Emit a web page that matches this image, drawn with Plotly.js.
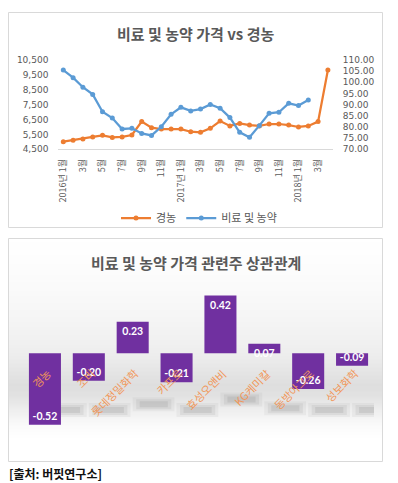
<!DOCTYPE html>
<html><head><meta charset="utf-8">
<script src="https://cdn.plot.ly/plotly-3.0.1.min.js"></script>
<style>html,body{margin:0;padding:0;background:#fff}#chart{width:398px;height:483px}</style>
</head><body><div id="chart"></div>
<script>
// ---------- data ----------
const months = ['2016-01','2016-02','2016-03','2016-04','2016-05','2016-06','2016-07','2016-08','2016-09','2016-10','2016-11','2016-12',
  '2017-01','2017-02','2017-03','2017-04','2017-05','2017-06','2017-07','2017-08','2017-09','2017-10','2017-11','2017-12',
  '2018-01','2018-02','2018-03','2018-04'];
const tickLabels = ['2016년 1월','3월','5월','7월','9월','11월','2017년 1월','3월','5월','7월','9월','11월','2018년 1월','3월'];
const kyungnong = [5010,5100,5190,5330,5440,5300,5330,5460,6360,5950,5860,5860,5860,5680,5640,5910,6400,6070,6240,6130,6070,6200,6200,6130,6000,6070,6360,9830];
const fertilizer = [105.5,102.1,97.8,94.6,86.8,84.0,79.1,79.4,77.1,76.2,80.1,85.7,88.8,87.2,88.0,90.1,88.4,84.2,77.6,75.4,80.6,86.1,86.6,90.6,89.6,92.1];
const leftTicks = [4500,5500,6500,7500,8500,9500,10500];
const rightTicks = [70,75,80,85,90,95,100,105,110];
const companies = ['경농','조비','롯데정밀화학','카프로','효성오앤비','KG케미칼','동방아그로','성보화학'];
const correlation = [-0.52,-0.20,0.23,-0.21,0.42,0.07,-0.26,-0.09];

// ---------- helpers ----------
const W = 398, H = 483;
const px = x => x / W;
const py = y => 1 - y / H;
const TFONT = 'DejaVu Sans, Noto Sans, sans-serif';
const KFONT = 'Noto Sans CJK KR, Noto Sans, sans-serif';
const GREY = '#595959';

const traces = [
  {x: months, y: kyungnong, name: '경농', type: 'scatter', mode: 'lines+markers',
   line: {color: '#ED7D31', width: 2.25}, marker: {color: '#ED7D31', size: 5},
   xaxis: 'x', yaxis: 'y', hoverinfo: 'skip'},
  {x: months.slice(0, fertilizer.length), y: fertilizer, name: '비료 및 농약', type: 'scatter', mode: 'lines+markers',
   line: {color: '#5B9BD5', width: 2.25}, marker: {color: '#5B9BD5', size: 5},
   xaxis: 'x', yaxis: 'y2', hoverinfo: 'skip'},
  {x: companies, y: correlation, type: 'bar', xaxis: 'x2', yaxis: 'y3', showlegend: false,
   marker: {color: '#7030A0'}, text: correlation.map(v => v.toFixed(2)),
   textposition: 'inside', insidetextanchor: 'end', constraintext: 'none',
   textfont: {color: '#ffffff', size: 10.5, family: 'Lato, Noto Sans, sans-serif', weight: 700},
   hoverinfo: 'skip'}
];

// ---------- decorations ----------
const shapes = [];
// gradient background of the lower panel
const stops = [[238,255],[280,251],[320,245],[355,237],[385,222],[395,225],[410,238],[425,250],[440,255],[462,255]];
function shadeAt(y){
  for (let i=0;i<stops.length-1;i++){
    const a=stops[i], b=stops[i+1];
    if (y>=a[0] && y<=b[0]){ const t=(y-a[0])/(b[0]-a[0]); return Math.round(a[1]+(b[1]-a[1])*t); }
  }
  return 255;
}
for (let y=238.5; y<461.5; y+=2){
  const c = shadeAt(y+1);
  shapes.push({type:'rect', xref:'paper', yref:'paper', x0:px(8.5), x1:px(382.5), y0:py(Math.min(y+2.4,461.5)), y1:py(y),
    fillcolor:`rgb(${c},${c},${c})`, line:{width:0}, layer:'below'});
}
// soft floor shadows under bars
const shadowLayers = [[0.0,0.95,7,0.07],[0.08,0.88,5,0.10],[0.16,0.8,3,0.14]];
correlation.forEach((v,i)=>{
  const yc = 410 - Math.max(v,0)*25;
  shadowLayers.forEach(L=>{
    shapes.push({type:'rect', xref:'x2', yref:'paper', x0:i+L[0], x1:i+L[1], y0:py(yc+L[2]), y1:py(yc-L[2]),
      fillcolor:`rgba(110,110,110,${L[3]})`, line:{width:0}, layer:'below'});
  });
});
// panel borders
shapes.push({type:'rect', xref:'paper', yref:'paper', x0:px(8.5), x1:px(382.5), y0:py(227.5), y1:py(12.5), line:{color:'#d9d9d9', width:1}, fillcolor:'rgba(0,0,0,0)'});
shapes.push({type:'rect', xref:'paper', yref:'paper', x0:px(8.5), x1:px(382.5), y0:py(461.5), y1:py(238.5), line:{color:'#d9d9d9', width:1}, fillcolor:'rgba(0,0,0,0)'});

const annotations = [
  {text:'비료 및 농약 가격 vs 경농', xref:'paper', yref:'paper', x:px(195), y:py(33), showarrow:false,
   xanchor:'center', yanchor:'middle', font:{family:KFONT, size:15, color:GREY, weight:700}},
  {text:'비료 및 농약 가격 관련주 상관관계', xref:'paper', yref:'paper', x:px(196), y:py(262), showarrow:false,
   xanchor:'center', yanchor:'middle', font:{family:KFONT, size:15, color:GREY, weight:700}},
  {text:'[출처: 버핏연구소]', xref:'paper', yref:'paper', x:px(7), y:py(473), showarrow:false,
   xanchor:'left', yanchor:'middle', font:{family:KFONT, size:12, color:'#111111', weight:700}}
];
companies.forEach(c=>{
  annotations.push({text:c, xref:'x2', yref:'y3', x:c, y:0, showarrow:false, textangle:-45,
    xanchor:'right', yanchor:'top', xshift:12, yshift:-9, font:{family:KFONT, size:11, color:'#F1975A'}});
});

const layout = {
  width: W, height: H, margin: {l:0, r:0, t:0, b:0},
  paper_bgcolor: '#ffffff', plot_bgcolor: 'rgba(0,0,0,0)',
  font: {family: TFONT, color: GREY},
  bargap: 0.27,
  showlegend: true,
  legend: {orientation:'h', x:0.5, xanchor:'center', y:py(218), yanchor:'middle',
    font:{family:KFONT, size:11, color:GREY}, bgcolor:'rgba(0,0,0,0)'},
  xaxis: {domain:[px(58.4), px(332.8)], anchor:'y', type:'category', range:[-0.5, months.length-0.5],
    tickvals: months.filter((m,i)=>i%2===0), ticktext: tickLabels, tickangle:-90,
    tickfont:{family:KFONT, size:9, color:GREY}, showline:true, linecolor:'#d9d9d9', linewidth:1,
    showgrid:false, zeroline:false, ticks:'', ticklabelstandoff:5},
  yaxis: {domain:[py(149.3), py(60)], anchor:'x', range:[4500,10500], tickvals:leftTicks,
    tickformat:',d', tickfont:{family:TFONT, size:9, color:GREY}, showgrid:false, zeroline:false, showline:false, ticks:'', ticklabelstandoff:9},
  yaxis2: {overlaying:'y', side:'right', anchor:'x', range:[70,110], tickvals:rightTicks,
    tickformat:'.2f', tickfont:{family:TFONT, size:9, color:GREY}, showgrid:false, zeroline:false, showline:false, ticks:'', ticklabelstandoff:9},
  xaxis2: {domain:[px(23), px(374)], anchor:'y3', type:'category', range:[-0.5, companies.length-0.5],
    showticklabels:false, showgrid:false, zeroline:false, showline:false, ticks:''},
  yaxis3: {domain:[py(435.75), py(284.5)], anchor:'x2', range:[-0.6,0.5], visible:false},
  shapes: shapes,
  annotations: annotations
};

Plotly.newPlot('chart', traces, layout, {displayModeBar:false, staticPlot:true});
</script>
</body></html>
